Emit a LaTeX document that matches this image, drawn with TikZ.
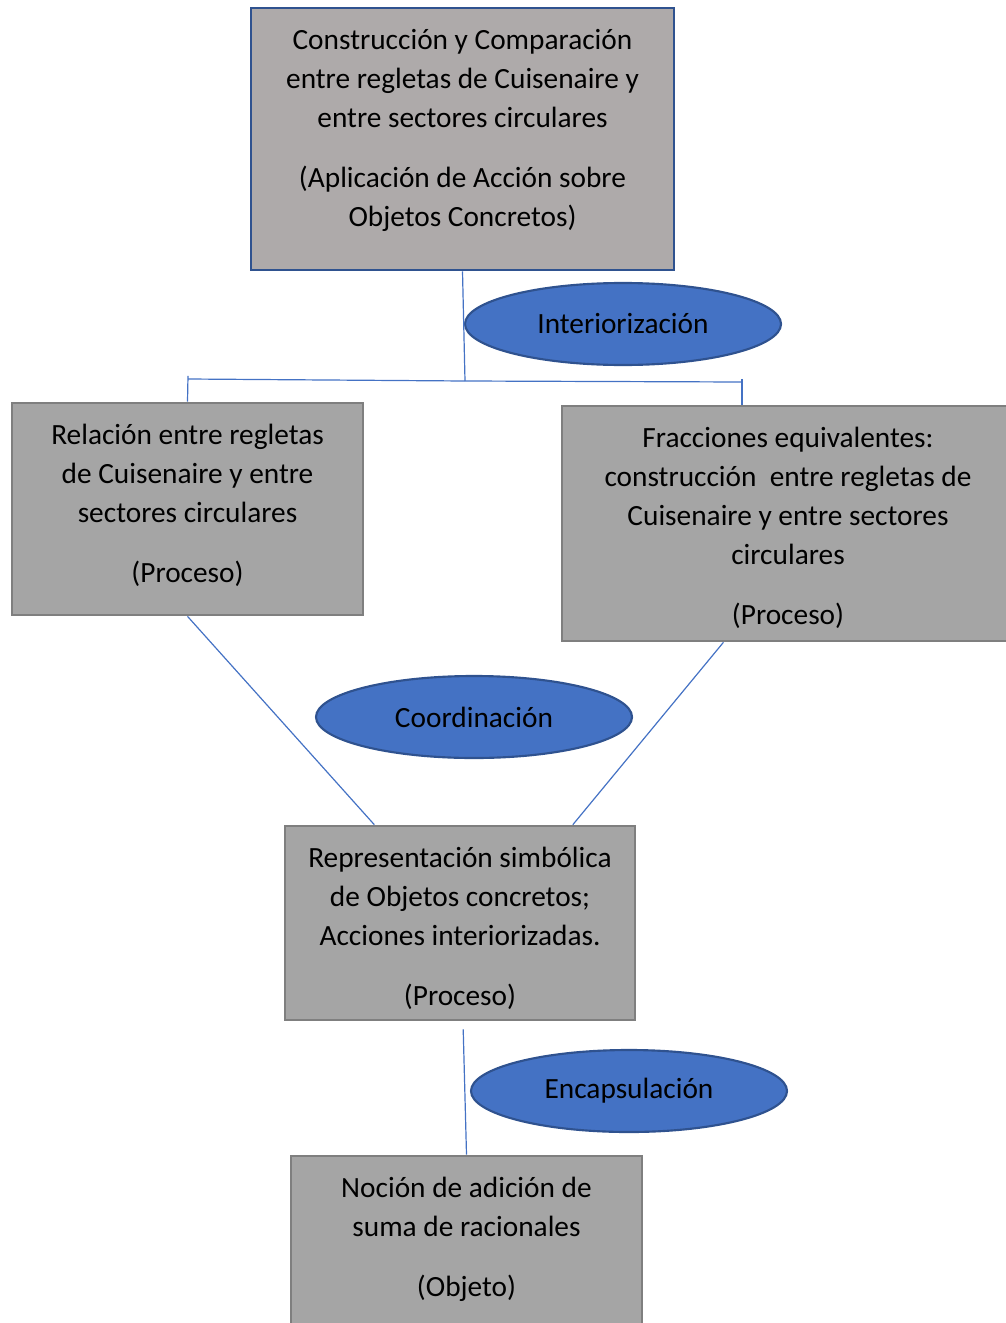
\documentclass[tikz,border=0pt]{standalone}
\usepackage{fontspec}
\setmainfont{Carlito}
\usetikzlibrary{positioning,calc,shapes.geometric}
\definecolor{azul}{HTML}{4472C4}
\definecolor{azulborde}{HTML}{2F528F}
\definecolor{grisclaro}{HTML}{AEAAAA}
\definecolor{gris}{HTML}{A5A5A5}
\definecolor{grisborde}{HTML}{7F7F7F}
\tikzstyle{caja}=[rectangle,draw=grisborde,fill=gris,line width=1pt,inner sep=0pt]
\tikzstyle{fase}=[ellipse,draw=azulborde,fill=azul,line width=0.8pt,minimum width=118.5pt,minimum height=30.75pt,inner sep=0pt]
\tikzstyle{enlace}=[draw=azul,line width=0.45pt]
\newcommand{\textocaja}[3]{\parbox[c][#2][t]{#1}{\centering\rule{0pt}{15.5pt}#3}}

\begin{document}
\begin{tikzpicture}[x=0.375pt,y=-0.375pt,every node/.style={font=\fontsize{11pt}{14.6pt}\selectfont}]
\useasboundingbox (0,0) rectangle (1005,1323);
\node [caja,draw=azulborde,fill=grisclaro] (accion) at (462.5,139) {\textocaja{158.6pt}{98.25pt}{Construcción y Comparación\\entre regletas de Cuisenaire y\\entre sectores circulares\\[8pt](Aplicación de Acción sobre\\Objetos Concretos)}};
\node [caja] (relacion) at (187.5,509) {\textocaja{131.6pt}{79.5pt}{Relación entre regletas\\de Cuisenaire y entre\\sectores circulares\\[8pt](Proceso)}};
\node [caja] (fracciones) at (788,523.5) {\textocaja{169.5pt}{88.1pt}{Fracciones equivalentes:\\construcción \ entre regletas de\\Cuisenaire y entre sectores\\circulares\\[8pt](Proceso)}};
\node [caja] (simbolica) at (460,923) {\textocaja{131.25pt}{72.75pt}{Representación simbólica\\de Objetos concretos;\\Acciones interiorizadas.\\[8pt](Proceso)}};
\node [caja] (nocion) at (466.5,1253) {\textocaja{131.6pt}{72.75pt}{Noción de adición de\\suma de racionales\\[8pt](Objeto)}};

\node [fase] (interiorizacion) at (623,324) {Interiorización};
\node [fase] (coordinacion) at (474,717) {Coordinación};
\node [fase] (encapsulacion) at (629,1091) {Encapsulación};

% ramas
\coordinate (junta) at (465,381);
\coordinate (izq) at (188,379);
\coordinate (der) at (742,382);
\draw [enlace] (accion.south) -- (junta);
\draw [enlace] (izq) -- (junta) -- (der);
\draw [enlace] ([yshift=1.2pt]izq) -- (relacion.north);
\draw [enlace] ([yshift=1.2pt]der) -- (der |- fracciones.north);
\draw [enlace] ($(relacion.south west)!0.5!(relacion.south east)$) -- ($(simbolica.north west)!0.257!(simbolica.north east)$);
\draw [enlace] ($(fracciones.south west)!0.358!(fracciones.south east)$) -- ($(simbolica.north west)!0.82!(simbolica.north east)$);
\draw [enlace] ([xshift=1.2pt,yshift=-3pt]simbolica.south) -- (nocion.north);
\end{tikzpicture}
\end{document}
